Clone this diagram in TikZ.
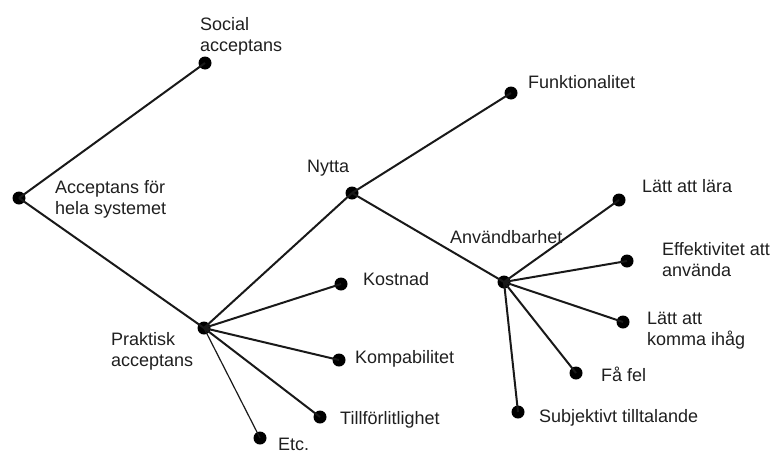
\documentclass[tikz,border=0pt]{standalone}
\usepackage{fontspec}
\setmainfont{Liberation Sans}
\begin{document}
\begin{tikzpicture}[x=1pt,y=-1pt,
  dot/.style={circle,fill=black,inner sep=0pt,minimum size=13pt},
  lbl/.style={anchor=base west,inner sep=0pt,align=left,text=black!88,font=\fontsize{18}{20.5}\selectfont},
  edge/.style={line width=2pt,draw=black!90},
  thin edge/.style={line width=1.2pt,draw=black!90}]
\useasboundingbox (0,0) rectangle (774,453);
% dots
\node[dot] (root) at (19,198) {};
\node[dot] (soc) at (205,63) {};
\node[dot] (prak) at (204,328) {};
\node[dot] (nyt) at (352,193) {};
\node[dot] (fun) at (511,93) {};
\node[dot] (anv) at (504,282) {};
\node[dot] (kos) at (341,284) {};
\node[dot] (kom) at (339,360) {};
\node[dot] (til) at (320,417) {};
\node[dot] (etc) at (260,438) {};
\node[dot] (lar) at (619,200) {};
\node[dot] (eff) at (627,261) {};
\node[dot] (ihg) at (623,322) {};
\node[dot] (fel) at (576,373) {};
\node[dot] (sub) at (518,412) {};
% connectors
\draw[edge] (root.center) -- (soc.center);
\draw[edge] (root.center) -- (prak.center);
\draw[edge] (prak.center) -- (nyt.center);
\draw[edge] (nyt.center) -- (fun.center);
\draw[edge] (nyt.center) -- (anv.center);
\draw[edge] (prak.center) -- (kos.center);
\draw[edge] (prak.center) -- (kom.center);
\draw[edge] (prak.center) -- (til.center);
\draw[thin edge] (prak.center) -- (etc.center);
\draw[edge] (anv.center) -- (lar.center);
\draw[edge] (anv.center) -- (eff.center);
\draw[edge] (anv.center) -- (ihg.center);
\draw[edge] (anv.center) -- (fel.center);
\draw[edge] (anv.center) -- (sub.center);
% labels (base west = baseline of last line)
\node[lbl] (tsoc) at (200,51) {Social\\acceptans};
\node[lbl] (troot) at (55,214) {Acceptans för\\hela systemet};
\node[lbl] (tnyt) at (307,172) {Nytta};
\node[lbl] (tprak) at (111,366) {Praktisk\\acceptans};
\node[lbl] (tkos) at (363,285) {Kostnad};
\node[lbl] (tkom) at (355,363) {Kompabilitet};
\node[lbl] (ttil) at (340,424) {Tillförlitlighet};
\node[lbl] (tetc) at (278,450) {Etc.};
\node[lbl] (tfun) at (528,88) {Funktionalitet};
\node[lbl] (tlar) at (642,192) {Lätt att lära};
\node[lbl] (tanv) at (450,243) {Användbarhet};
\node[lbl] (teff) at (662,276) {Effektivitet att\\använda};
\node[lbl] (tihg) at (647,345) {Lätt att\\komma ihåg};
\node[lbl] (tfel) at (601,381) {Få fel};
\node[lbl] (tsub) at (539,422) {Subjektivt tilltalande};
\end{tikzpicture}
\end{document}
